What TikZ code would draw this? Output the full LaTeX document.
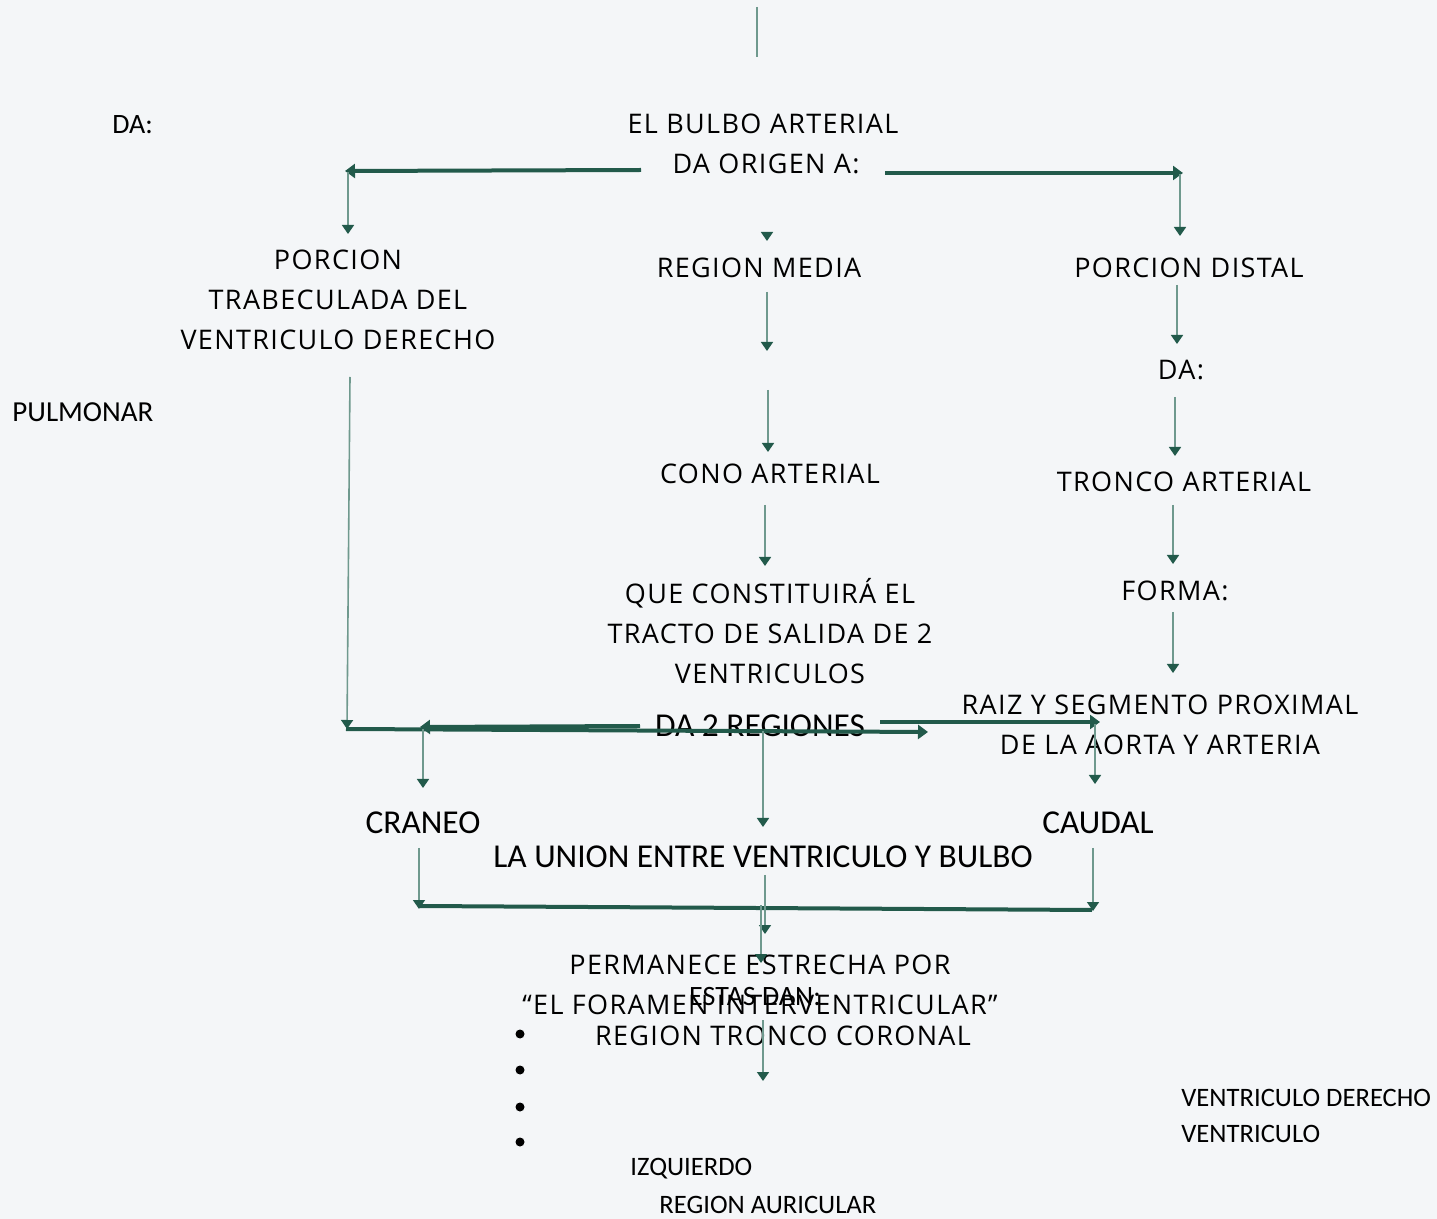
\documentclass[tikz,border=0pt]{standalone}
\usepackage{fontspec}
\setmainfont{Open Sans}[LetterSpace=5]
\newfontfamily\carl{Carlito}
\usetikzlibrary{arrows.meta}
\definecolor{bg}{HTML}{F4F6F8}
\definecolor{adark}{HTML}{225A4B}
\definecolor{alight}{HTML}{6F998E}
\begin{document}
\begin{tikzpicture}[x=0.5pt,y=-0.5pt,
  big/.style={font=\fontsize{13.5}{20}\selectfont, align=center, inner sep=0pt, text=black},
  cond/.style={font=\carl\fontsize{16.7}{20}\selectfont, inner sep=0pt, text=black},
  small/.style={font=\carl\fontsize{13.3}{18}\selectfont, inner sep=0pt, text=black},
  thickarrow/.style={draw=adark, line width=2pt, -{Triangle[length=5pt,width=7pt]}},
  thickline/.style={draw=adark, line width=2pt},
  thinarrow/.style={draw=alight, line width=0.8pt, -{Triangle[length=4.5pt,width=6pt,color=adark]}},
  thinline/.style={draw=alight, line width=1pt},
  bullet/.style={circle, fill=black, inner sep=0pt, minimum size=4.5pt}
]
\fill[bg] (0,0) rectangle (1437,1219);
\useasboundingbox (0,0) rectangle (1437,1219);

% ---------- texts ----------
\node[small, font=\carl\fontsize{14}{18}\selectfont, anchor=west] (da1) at (112,125) {DA:};
\node[big] (bulbo) at (763,124) {EL BULBO ARTERIAL};
\node[big] (origen) at (766,164) {DA ORIGEN A:};
\node[big] (trab) at (338,300) {PORCION\\TRABECULADA DEL\\VENTRICULO DERECHO};
\node[big] (media) at (759,268) {REGION MEDIA};
\node[big] (distal) at (1189,268) {PORCION DISTAL};
\node[small, font=\carl\fontsize{14.5}{18}\selectfont, anchor=west] (pulm) at (12,412) {PULMONAR};
\node[big] (da2) at (1181,370) {DA:};
\node[big] (cono) at (770,474) {CONO ARTERIAL};
\node[big] (tronco) at (1184,482) {TRONCO ARTERIAL};
\node[big] (que) at (770,631) {QUE CONSTITUIRÁ EL\\TRACTO DE SALIDA DE 2\\VENTRICULOS};
\node[big] (forma) at (1175,591) {FORMA:};
\node[big] (raiz) at (1160,725) {RAIZ Y SEGMENTO PROXIMAL\\DE LA AORTA Y ARTERIA};
\node[cond] (regiones) at (760,726) {DA 2 REGIONES};
\node[cond] (craneo) at (423,823) {CRANEO};
\node[cond] (caudal) at (1098,823) {CAUDAL};
\node[cond] (union) at (763,857) {LA UNION ENTRE VENTRICULO Y BULBO};
\node[big] (perm) at (760,985) {PERMANECE ESTRECHA POR\\“EL FORAMEN INTERVENTRICULAR”};
\node[small, font=\carl\fontsize{14}{18}\selectfont] (estas) at (755,997) {ESTAS DAN:};
\node[big] (coronal) at (783,1036) {REGION TRONCO CORONAL};
\node[small, anchor=west] (vd) at (1181,1098) {VENTRICULO DERECHO};
\node[small, anchor=west] (vent) at (1181,1134) {VENTRICULO};
\node[small, anchor=west] (izq) at (630,1169) {IZQUIERDO};
\node[small, anchor=west] (auric) at (659,1205) {REGION AURICULAR};
\node[bullet] (b1) at (520,1034) {};
\node[bullet] (b2) at (520,1070) {};
\node[bullet] (b3) at (520,1107) {};
\node[bullet] (b4) at (520,1142) {};

% ---------- coordinates ----------
\coordinate (top1) at (757,7);   \coordinate (top2) at (757,57);
\coordinate (t1a) at (641,170);  \coordinate (t1b) at (345,171);
\coordinate (t2a) at (885,173);  \coordinate (t2b) at (1183,173);
\coordinate (t3a) at (640,726);  \coordinate (t3b) at (420,727);
\coordinate (t4a) at (346,729);  \coordinate (t4b) at (928,732);
\coordinate (t5a) at (880,722);  \coordinate (t5b) at (1100,722);
\coordinate (bla) at (420,906);  \coordinate (blb) at (1092,910);
\coordinate (a1a) at (348,172);  \coordinate (a1b) at (348,234);
\coordinate (a2a) at (767,232);  \coordinate (a2b) at (767,241);
\coordinate (a3a) at (1180,174); \coordinate (a3b) at (1180,236);
\coordinate (a4a) at (767,292);  \coordinate (a4b) at (767,351);
\coordinate (a5a) at (768,390);  \coordinate (a5b) at (768,452);
\coordinate (a6a) at (1177,285); \coordinate (a6b) at (1177,344);
\coordinate (a7a) at (1175,397); \coordinate (a7b) at (1175,456);
\coordinate (a8a) at (765,505);  \coordinate (a8b) at (765,566);
\coordinate (a9a) at (1173,505); \coordinate (a9b) at (1173,564);
\coordinate (a10a) at (1173,612);\coordinate (a10b) at (1173,673);
\coordinate (a11a) at (350,377); \coordinate (a11b) at (347,729);
\coordinate (a12a) at (423,729); \coordinate (a12b) at (423,788);
\coordinate (a13a) at (763,731); \coordinate (a13b) at (763,827);
\coordinate (a14a) at (1095,724);\coordinate (a14b) at (1095,784);
\coordinate (a15a) at (419,848); \coordinate (a15b) at (419,909);
\coordinate (a16a) at (1093,848);\coordinate (a16b) at (1093,911);
\coordinate (a17a) at (765,875); \coordinate (a17b) at (765,934);
\coordinate (a18a) at (761,905); \coordinate (a18b) at (761,963);
\coordinate (a19a) at (763,1020);\coordinate (a19b) at (763,1081);

% ---------- connectors ----------
\draw[thinline] (top1) -- (top2);
\draw[thickarrow] (t1a) -- (t1b);
\draw[thickarrow] (t2a) -- (t2b);
\draw[thickarrow] (t4a) -- (t4b);
\draw[thickarrow] (t3a) -- (t3b);
\draw[thickarrow] (t5a) -- (t5b);
\draw[thickline] (bla) -- (blb);
\foreach \i in {1,...,19}{\draw[thinarrow] (a\i a) -- (a\i b);}
\end{tikzpicture}
\end{document}
